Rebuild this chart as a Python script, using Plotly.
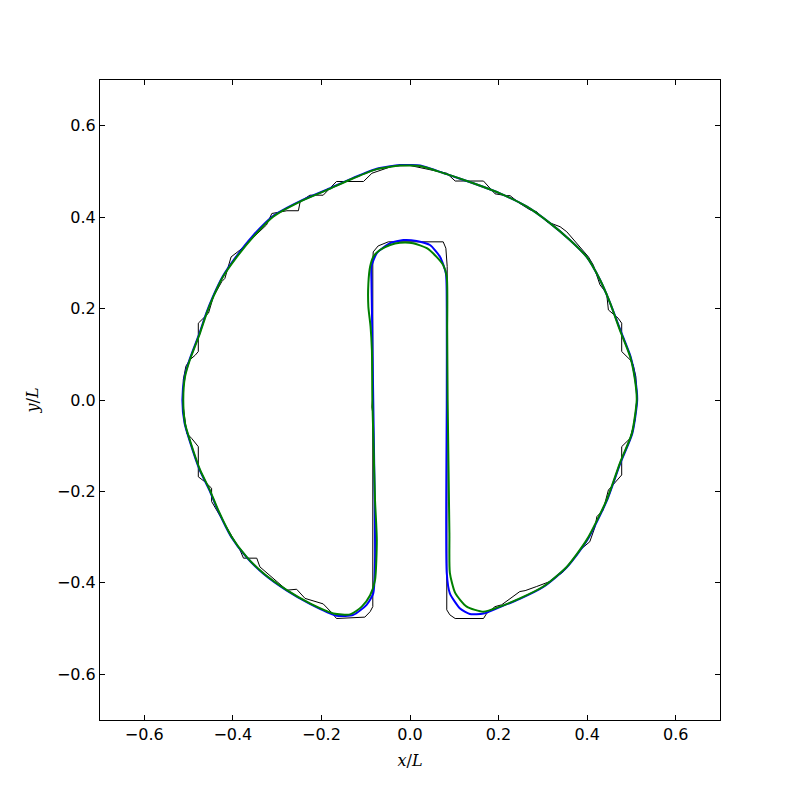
import plotly.graph_objects as go

# ── Contour coordinates (x/L, y/L) ───────────────────────────────────────────
# black: coarse piecewise-linear contour
black_x = [0.000, -0.038, -0.086, -0.105, -0.166, -0.181, -0.196, -0.226, -0.248,
           -0.252, -0.278, -0.312, -0.324, -0.384, -0.404, -0.418, -0.425, -0.444,
           -0.455, -0.478, -0.478, -0.485, -0.497, -0.506, -0.512, -0.512,
           -0.504, -0.493, -0.478, -0.478, -0.463, -0.448, -0.448, -0.384, -0.376,
           -0.346, -0.339, -0.278, -0.256, -0.237, -0.196, -0.177, -0.166, -0.102,
           -0.090, -0.084, -0.084, -0.084, -0.086, -0.084, -0.084, -0.083, -0.072,
           -0.049, 0.075, 0.081, 0.084, 0.084, 0.083, 0.090, 0.102, 0.166,
           0.173, 0.192, 0.207, 0.248, 0.260, 0.286, 0.316, 0.346, 0.384,
           0.406, 0.418, 0.422, 0.436, 0.448, 0.478, 0.478, 0.497, 0.508, 0.512,
           0.510, 0.504, 0.497, 0.478, 0.478, 0.470, 0.448, 0.444, 0.429, 0.414,
           0.403, 0.384, 0.354, 0.339, 0.309, 0.286, 0.271, 0.248, 0.226, 0.218,
           0.192, 0.166, 0.102, 0.083, 0.007, 0.000]
black_y = [0.513, 0.512, 0.496, 0.478, 0.478, 0.464, 0.448, 0.448, 0.434,
           0.414, 0.414, 0.408, 0.383, 0.328, 0.313, 0.266, 0.259, 0.226,
           0.190, 0.168, 0.106, 0.098, 0.088, 0.074, 0.044, -0.015,
           -0.073, -0.084, -0.102, -0.168, -0.179, -0.193, -0.222, -0.328, -0.346,
           -0.346, -0.365, -0.416, -0.414, -0.434, -0.446, -0.465, -0.478, -0.475,
           -0.463, -0.452, -0.306, -0.030, -0.015, 0.010, 0.306, 0.324, 0.337,
           0.346, 0.346, 0.332, 0.292, 0.000, -0.459, -0.470, -0.478, -0.478,
           -0.467, -0.452, -0.448, -0.419, -0.417, -0.408, -0.397, -0.376, -0.328,
           -0.310, -0.277, -0.255, -0.241, -0.197, -0.164, -0.102, -0.084, -0.044, 0.000,
           0.051, 0.077, 0.088, 0.106, 0.168, 0.179, 0.197, 0.233, 0.252, 0.295,
           0.313, 0.335, 0.368, 0.379, 0.390, 0.412, 0.416, 0.430, 0.447, 0.447,
           0.451, 0.479, 0.479, 0.496, 0.513, 0.513]

# blue: smooth contour
blue_x = [0.000, -0.023, -0.075, -0.128, -0.188, -0.248, -0.310, -0.356, -0.393,
          -0.423, -0.445, -0.460, -0.475, -0.498, -0.509, -0.514,
          -0.509, -0.498, -0.475, -0.453, -0.434, -0.404, -0.369, -0.331,
          -0.278, -0.226, -0.166, -0.128, -0.098, -0.083, -0.079, -0.080,
          -0.083, -0.086, -0.087, -0.087, -0.075, -0.045, -0.015, 0.015,
          0.045, 0.068, 0.081, 0.083, 0.083, 0.083, 0.090, 0.113, 0.135,
          0.166, 0.203, 0.248, 0.301, 0.354, 0.400, 0.445, 0.475, 0.502, 0.513,
          0.509, 0.498, 0.475, 0.452, 0.429, 0.399, 0.361, 0.316, 0.264,
          0.203, 0.143, 0.083, 0.023, 0.000]
blue_y = [0.514, 0.514, 0.506, 0.486, 0.460, 0.435, 0.402, 0.358, 0.313,
          0.270, 0.226, 0.190, 0.147, 0.088, 0.051, 0.000,
          -0.051, -0.088, -0.153, -0.197, -0.241, -0.299, -0.344, -0.380,
          -0.417, -0.446, -0.472, -0.470, -0.448, -0.423, -0.350, -0.200,
          0.000, 0.200, 0.260, 0.292, 0.321, 0.343, 0.350, 0.348,
          0.339, 0.313, 0.277, 0.200, 0.000, -0.379, -0.423, -0.456, -0.468,
          -0.467, -0.453, -0.435, -0.409, -0.366, -0.307, -0.219, -0.138, -0.073, 0.000,
          0.044, 0.095, 0.153, 0.212, 0.263, 0.313, 0.350, 0.387, 0.423,
          0.452, 0.474, 0.494, 0.513, 0.514]

# green: smooth contour
green_x = [0.000, -0.023, -0.075, -0.128, -0.188, -0.248, -0.309, -0.354, -0.391,
           -0.422, -0.444, -0.459, -0.474, -0.497, -0.508, -0.512,
           -0.508, -0.497, -0.474, -0.452, -0.433, -0.403, -0.369, -0.331,
           -0.278, -0.226, -0.173, -0.135, -0.109, -0.090, -0.079, -0.075,
           -0.079, -0.083, -0.085, -0.086, -0.089, -0.094, -0.094, -0.090,
           -0.083, -0.068, -0.045, -0.023, 0.007, 0.038, 0.060, 0.075, 0.083,
           0.084, 0.085, 0.089, 0.090, 0.102, 0.128, 0.166, 0.203, 0.248,
           0.301, 0.354, 0.399, 0.444, 0.474, 0.501, 0.512,
           0.508, 0.497, 0.474, 0.452, 0.429, 0.399, 0.361, 0.316, 0.264,
           0.203, 0.143, 0.083, 0.023, 0.000]
green_y = [0.513, 0.513, 0.505, 0.485, 0.459, 0.434, 0.401, 0.357, 0.313,
           0.270, 0.226, 0.190, 0.147, 0.088, 0.051, 0.000,
           -0.051, -0.088, -0.153, -0.197, -0.241, -0.299, -0.343, -0.379,
           -0.416, -0.445, -0.467, -0.469, -0.452, -0.427, -0.394, -0.306,
           -0.219, -0.072, 0.000, 0.109, 0.160, 0.204, 0.255, 0.292,
           0.313, 0.328, 0.339, 0.344, 0.343, 0.332, 0.313, 0.295, 0.270,
           0.153, 0.000, -0.291, -0.378, -0.422, -0.452, -0.463, -0.452, -0.434,
           -0.408, -0.365, -0.306, -0.219, -0.138, -0.073, 0.000,
           0.044, 0.095, 0.153, 0.212, 0.263, 0.313, 0.350, 0.387, 0.423,
           0.452, 0.474, 0.494, 0.512, 0.513]

tick_vals = [-0.6, -0.4, -0.2, 0.0, 0.2, 0.4, 0.6]
tick_text = ["\u22120.6", "\u22120.4", "\u22120.2", "0.0", "0.2", "0.4", "0.6"]

fig = go.Figure()
fig.add_trace(go.Scatter(x=black_x, y=black_y, mode="lines",
                         line=dict(color="#000000", width=1)))
fig.add_trace(go.Scatter(x=blue_x, y=blue_y, mode="lines",
                         line=dict(color="#0000ff", width=2, shape="spline",
                                   smoothing=0.6)))
fig.add_trace(go.Scatter(x=green_x, y=green_y, mode="lines",
                         line=dict(color="#008000", width=2, shape="spline",
                                   smoothing=0.6)))

axis_common = dict(
    range=[-0.7, 0.7],
    tickvals=tick_vals, ticktext=tick_text,
    ticks="inside", ticklen=5, tickwidth=1, tickcolor="#000000",
    showline=True, linecolor="#000000", linewidth=1, mirror="ticks",
    showgrid=False, zeroline=False,
    tickfont=dict(family="DejaVu Sans", size=16, color="#000000"),
)

# page body adds an 8px offset, so margins are trimmed to match
fig.update_layout(
    width=800, height=800,
    paper_bgcolor="#ffffff", plot_bgcolor="#ffffff",
    showlegend=False,
    margin=dict(l=92, r=88, t=72, b=88),
    xaxis=dict(**axis_common,
               title=dict(text="<i>x</i>/<i>L</i>", standoff=11,
                          font=dict(family="DejaVu Serif", size=16, color="#000000"))),
    yaxis=dict(**axis_common,
               title=dict(text="<i>y</i>/<i>L</i>", standoff=14,
                          font=dict(family="DejaVu Serif", size=16, color="#000000"))),
)

fig.write_html("out.html")
